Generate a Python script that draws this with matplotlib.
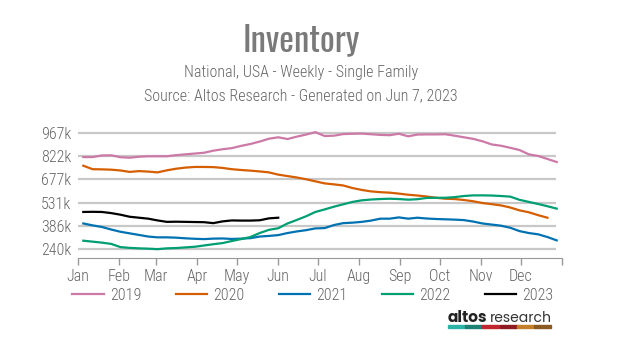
import matplotlib
matplotlib.use("Agg")
import matplotlib.pyplot as plt
from matplotlib import font_manager as fm
from matplotlib.patches import Rectangle

installed = {f.name for f in fm.fontManager.ttflist}


def pick(cands):
    for c in cands:
        if c in installed:
            return c
    return "DejaVu Sans"


body_font = pick(["Roboto Condensed", "Barlow Semi Condensed", "Asap Condensed", "Archivo Narrow"])
title_font = pick(["Oswald", "Roboto Condensed", "Barlow Condensed"])
logo_font = pick(["Poppins", "Lato"])
plt.rcParams['font.family'] = [body_font, 'DejaVu Sans']

# weekly sample days (day of year)
days = [4 + 7 * k for k in range(52)]

inv_2019 = [816, 816, 826, 827, 815, 812, 818, 821, 821, 821, 828, 833, 838, 843, 856, 865,
            872, 886, 898, 913, 931, 940, 929, 944, 957, 972, 948, 950, 960, 962, 963, 959,
            955, 953, 962, 946, 957, 958, 958, 959, 950, 940, 930, 915, 895, 887, 874, 860,
            833, 823, 804, 785]
inv_2020 = [762, 740, 739, 737, 732, 723, 728, 725, 720, 733, 743, 750, 754, 754, 753, 748,
            740, 735, 731, 726, 720, 706, 697, 688, 677, 664, 651, 645, 638, 622, 610, 601,
            596, 593, 587, 580, 575, 569, 561, 555, 553, 547, 539, 528, 521, 513, 500, 482,
            470, 452, 436]
inv_2021 = [400, 388, 378, 362, 348, 338, 328, 318, 313, 313, 311, 307, 304, 302, 305, 306,
            303, 305, 308, 318, 322, 327, 340, 350, 358, 369, 371, 390, 402, 405, 410, 418,
            430, 430, 438, 430, 436, 431, 428, 426, 424, 421, 412, 400, 393, 386, 373, 352,
            340, 332, 315, 294]
inv_2022 = [292, 286, 280, 272, 252, 247, 244, 242, 239, 244, 246, 250, 254, 262, 270, 277,
            290, 302, 315, 340, 360, 370, 400, 422, 445, 472, 488, 505, 520, 535, 545, 550,
            553, 555, 553, 549, 552, 560, 561, 561, 565, 572, 576, 576, 575, 572, 568, 548,
            535, 522, 508, 493]
inv_2023 = [472, 473, 472, 465, 455, 442, 436, 430, 419, 410, 411, 410, 409, 408, 402, 413,
            419, 418, 418, 420, 432, 436]

series = [("2019", inv_2019, "#cc79a7"),
          ("2020", inv_2020, "#d55e00"),
          ("2021", inv_2021, "#0072b2"),
          ("2022", inv_2022, "#009e73"),
          ("2023", inv_2023, "#000000")]

month_days = [0, 31, 59, 90, 120, 151, 181, 212, 243, 273, 304, 334]
month_labels = ["Jan", "Feb", "Mar", "Apr", "May", "Jun", "Jul", "Aug", "Sep", "Oct", "Nov", "Dec"]
y_ticks = [240, 386, 531, 677, 822, 967]
y_labels = ["240k", "386k", "531k", "677k", "822k", "967k"]

W, H = 624, 351
fig = plt.figure(figsize=(W / 100, H / 100), dpi=100)
ax = fig.add_axes([78 / W, 1 - 258 / H, (562 - 78) / W, (258 - 127.7) / H])

grey = "#666666"
ax.hlines(y_ticks, 0, 360.5, color="#c8c8c8", lw=1.6, zorder=1)
for name, vals, col in series:
    ax.plot(days[:len(vals)], vals, color=col, lw=1.6, label=name, zorder=3)

ax.set_xlim(0, 365)
ax.set_ylim(183.6, 1000)
ax.set_xticks(month_days + [365])
ax.set_xticklabels(month_labels + [""])
ax.set_yticks(y_ticks)
ax.set_yticklabels(y_labels)
ax.tick_params(axis="x", colors="#999999", length=5, width=1, labelcolor=grey, labelsize=11.5, pad=3)
ax.tick_params(axis="y", length=0, labelcolor=grey, labelsize=11.5, pad=5)
for lab in ax.get_xticklabels() + ax.get_yticklabels():
    lab.set_fontweight("light")
for s in ["top", "right", "left"]:
    ax.spines[s].set_visible(False)
ax.spines["bottom"].set_color("#999999")

cx = 301 / W
fig.text(cx, 1 - 51.7 / H, "Inventory", ha="center", va="baseline", fontsize=25, color="#7a7a7a",
         family=[title_font, "DejaVu Sans"])
fig.text(cx, 1 - 76.7 / H, "National, USA - Weekly - Single Family", ha="center", va="baseline",
         fontsize=11.5, color=grey, fontweight="light")
fig.text(cx, 1 - 100 / H, "Source: Altos Research - Generated on Jun 7, 2023", ha="center",
         va="baseline", fontsize=11.5, color=grey, fontweight="light")

leg = fig.legend(loc="center", bbox_to_anchor=(313 / W, 1 - 295 / H), ncol=5, frameon=False,
                 fontsize=11.5, handlelength=1.95, handletextpad=0.4, columnspacing=2.15)
for t in leg.get_texts():
    t.set_color(grey)
    t.set_fontweight("light")

# logo
fig.text(447.5 / W, 1 - 321.7 / H, "altos", fontsize=11, fontweight="bold", color="#222222",
         va="baseline", ha="left", family=[logo_font, "DejaVu Sans"])
fig.text(552 / W, 1 - 321.7 / H, "research", fontsize=10, color="#333333",
         va="baseline", ha="right", family=[logo_font, "DejaVu Sans"])
logo_cols = ["#2bb3a6", "#1d8275", "#c0272d", "#8e1b22", "#c47f2a", "#8a5a22"]
seg = (551 - 448) / len(logo_cols)
for i, c in enumerate(logo_cols):
    fig.patches.append(Rectangle(((448 + i * seg) / W, 1 - 328 / H), seg / W, 3 / H,
                                 transform=fig.transFigure, color=c))

fig.savefig("out.png", dpi=100)
